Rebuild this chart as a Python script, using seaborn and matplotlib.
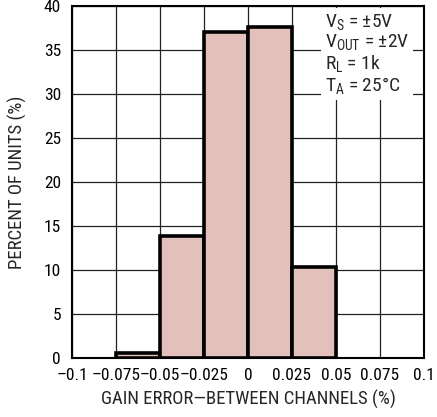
import numpy as np
import pandas as pd
import seaborn as sns
import matplotlib.pyplot as plt

# histogram data
bin_edges = [-0.075, -0.05, -0.025, 0.0, 0.025, 0.05]
bin_centers = [-0.0625, -0.0375, -0.0125, 0.0125, 0.0375]
percent_units = [0.6, 13.9, 37.1, 37.7, 10.3]

x_ticks = [-0.1, -0.075, -0.05, -0.025, 0, 0.025, 0.05, 0.075, 0.1]
x_tick_labels = ['\u20130.1', '\u20130.075', '\u20130.05', '\u20130.025', '0',
                 '0.025', '0.05', '0.075', '0.1']
y_ticks = [0, 5, 10, 15, 20, 25, 30, 35, 40]

df = pd.DataFrame({'gain_error': bin_centers, 'pct': percent_units})

sns.set_style('white')
plt.rcParams['font.family'] = ['Roboto Condensed', 'DejaVu Sans']
plt.rcParams['mathtext.default'] = 'regular'

fig = plt.figure(figsize=(4.37, 4.17), dpi=100)
ax = fig.add_axes([0.165, 0.1415, 0.805, 0.843])

sns.histplot(data=df, x='gain_error', weights='pct', bins=bin_edges,
             color='#E2C1BC', alpha=1, edgecolor='black', linewidth=2.6, ax=ax, zorder=3)

ax.set_xlim(-0.1, 0.1)
ax.set_ylim(0, 40)
ax.set_xticks(x_ticks)
ax.set_xticklabels(x_tick_labels)
ax.set_yticks(y_ticks)
ax.grid(True, color='#222222', linewidth=0.9, zorder=0)
ax.set_axisbelow(True)
for s in ax.spines.values():
    s.set_color('black')
    s.set_linewidth(1.5)
ax.tick_params(length=0, labelsize=12.5, colors='black')
ax.tick_params(axis='x', pad=7)
ax.tick_params(axis='y', pad=8)

ax.set_xlabel('GAIN ERROR\u2014BETWEEN CHANNELS (%)', fontsize=13.5, labelpad=5)
ax.set_ylabel('PERCENT OF UNITS (%)', fontsize=13.5, labelpad=12)

note = ('V$_S$ = \u00b15V\nV$_{OUT}$ = \u00b12V\nR$_L$ = 1k\nT$_A$ = 25\u00b0C')
ax.text(0.0437, 39.4, note, fontsize=14, va='top', ha='left', linespacing=1.05,
        bbox=dict(facecolor='white', edgecolor='none', pad=3), zorder=4)

fig.savefig('out.png', dpi=100)
